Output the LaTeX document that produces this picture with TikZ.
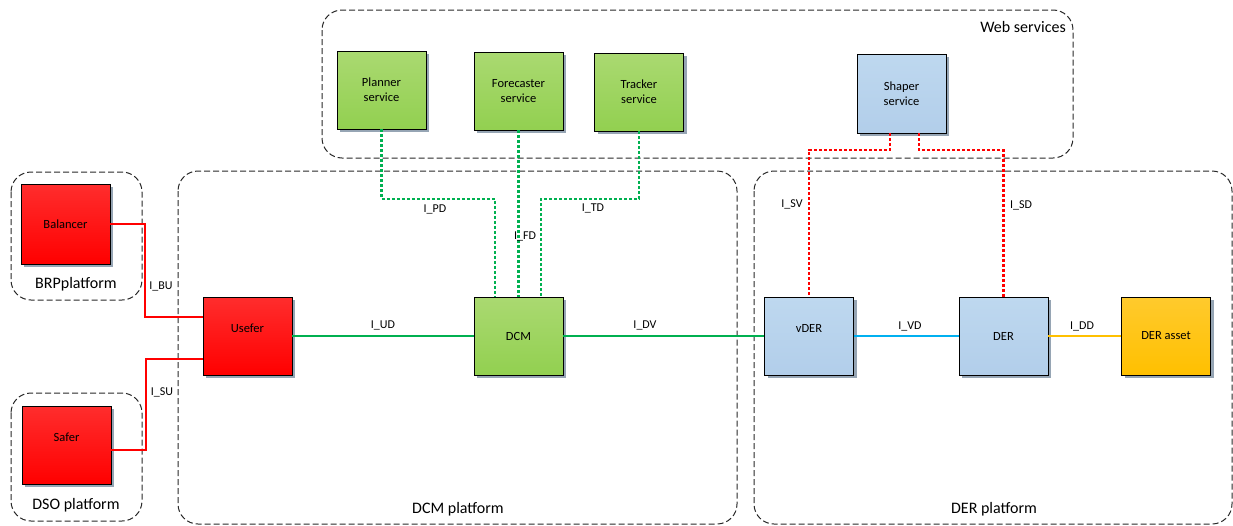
\documentclass[tikz,border=0pt]{standalone}
\usepackage{fontspec}
\setmainfont{Carlito}
\usepackage{tikz}
\usetikzlibrary{shadows}

\definecolor{redtop}{RGB}{255,45,45}
\definecolor{redbot}{RGB}{255,0,0}
\definecolor{greentop}{RGB}{170,217,113}
\definecolor{greenbot}{RGB}{146,208,80}
\definecolor{bluetop}{RGB}{190,216,239}
\definecolor{bluebot}{RGB}{178,206,234}
\definecolor{orangetop}{RGB}{255,202,45}
\definecolor{orangebot}{RGB}{255,192,0}
\definecolor{shadowc}{RGB}{150,165,180}
\definecolor{linkgreen}{RGB}{0,176,80}
\definecolor{linkblue}{RGB}{0,176,240}
\definecolor{linkorange}{RGB}{255,192,0}
\definecolor{framegray}{RGB}{40,40,40}

\begin{document}
\begin{tikzpicture}[x=1pt,y=-1pt]
\tikzstyle{every node}+=[inner sep=0pt]
\tikzstyle{box}=[draw=black,line width=0.9pt,minimum width=89pt,minimum height=78pt,align=center,
  font=\fontsize{12.5}{15}\selectfont,
  drop shadow={opacity=1,fill=shadowc,shadow xshift=3pt,shadow yshift=-3pt}]
\tikzstyle{redbox}=[box,top color=redtop,bottom color=redbot]
\tikzstyle{greenbox}=[box,top color=greentop,bottom color=greenbot]
\tikzstyle{bluebox}=[box,top color=bluetop,bottom color=bluebot]
\tikzstyle{orangebox}=[box,top color=orangetop,bottom color=orangebot]
\tikzstyle{platform}=[draw=framegray,line width=1pt,dash pattern=on 6pt off 3pt,rounded corners=20pt]
\tikzstyle{platlabel}=[font=\fontsize{16}{19}\selectfont]
\tikzstyle{iflabel}=[font=\fontsize{12}{14}\selectfont]
\tikzstyle{reddot}=[draw=red,line width=2.5pt,dash pattern=on 3pt off 2pt]
\tikzstyle{greendot}=[draw=linkgreen,line width=2.5pt,dash pattern=on 3pt off 2pt]
\useasboundingbox (0,0) rectangle (1233,525);
\draw [platform] (11,172) rectangle (142,300);
\draw [platform] (11,393) rectangle (142,521);
\draw [platform] (322,10) rectangle (1073,158);
\draw [platform] (178,171) rectangle (737,524);
\draw [platform] (754,171) rectangle (1232,524);
\node [platlabel] (brp) at (76,284) {BRPplatform};
\node [platlabel] (dso) at (76,505) {DSO platform};
\node [platlabel] (web) at (1023,27) {Web services};
\node [platlabel] (dcmp) at (458,509) {DCM platform};
\node [platlabel] (derp) at (994,509) {DER platform};
\node [redbox,minimum height=80pt] (Balancer) at (65.5,224) {Balancer};
\node [redbox] (Safer) at (66.5,445) {\raisebox{8pt}[\height][\depth]{Safer}};
\node [redbox] (Usefer) at (247.5,336) {\raisebox{8pt}[\height][\depth]{Usefer}};
\node [greenbox] (DCM) at (518.5,336) {DCM};
\node [bluebox] (vDER) at (809,336) {\raisebox{8pt}[\height][\depth]{vDER}};
\node [bluebox] (DER) at (1003.5,336) {DER};
\node [orangebox] (DERasset) at (1166,336) {DER asset};
\node [greenbox] (Planner) at (381.5,90) {Planner\\service};
\node [greenbox] (Forecaster) at (518.5,91) {Forecaster\\service};
\node [greenbox] (Tracker) at (639,92) {Tracker\\service};
\node [bluebox,minimum height=79pt] (Shaper) at (901.5,93.5) {Shaper\\service};
\coordinate (bu) at (145,317);
\coordinate (su) at (146,359);
\coordinate (pd) at (495,199);
\coordinate (td) at (541,199);
\coordinate (sv) at (809,150);
\coordinate (sd) at (1003.5,150);
\draw [red,line width=2.2pt] (Balancer.east) -| (bu) -- (bu -| Usefer.west);
\draw [red,line width=2.2pt] ([yshift=-5pt]Safer.east) -| (su) -- (su -| Usefer.west);
\draw [linkgreen,line width=2.2pt] (Usefer) -- (DCM);
\draw [linkgreen,line width=2.2pt] (DCM) -- (vDER);
\draw [linkblue,line width=2.2pt] (vDER) -- (DER);
\draw [linkorange,line width=2.2pt] (DER) -- (DERasset);
\draw [greendot] (Planner.south) |- (pd) -- (pd |- DCM.north);
\draw [greendot] (Forecaster.south) -- (DCM.north);
\draw [greendot] (Tracker.south) |- (td) -- (td |- DCM.north);
\draw [reddot] ([xshift=-11.5pt]Shaper.south) |- (sv) -- (vDER.north);
\draw [reddot] ([xshift=17.5pt]Shaper.south) |- (sd) -- (DER.north);
\node [iflabel] (lbu) at (161,286) {I\_BU};
\node [iflabel] (lsu) at (162,392) {I\_SU};
\node [iflabel] (lud) at (383,325) {I\_UD};
\node [iflabel] (ldv) at (645,325) {I\_DV};
\node [iflabel] (lvd) at (910,326) {I\_VD};
\node [iflabel] (ldd) at (1082,326) {I\_DD};
\node [iflabel] (lpd) at (435,209) {I\_PD};
\node [iflabel] (lfd) at (525,236) {I\_FD};
\node [iflabel] (ltd) at (593,208) {I\_TD};
\node [iflabel] (lsv) at (792,204) {I\_SV};
\node [iflabel] (lsd) at (1021,205) {I\_SD};
\end{tikzpicture}
\end{document}
